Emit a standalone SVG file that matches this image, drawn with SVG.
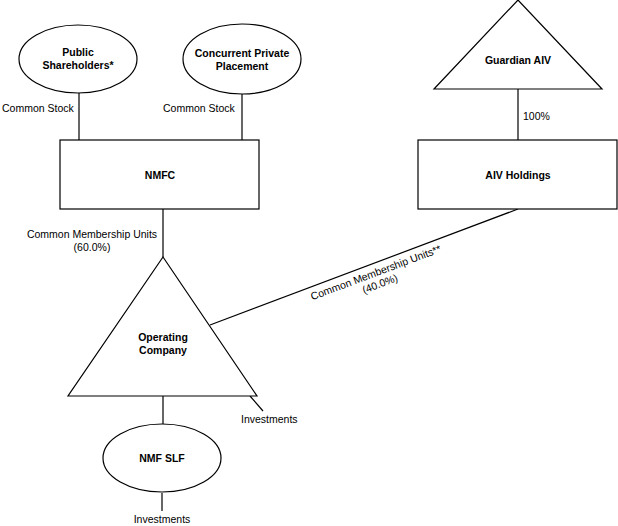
<svg xmlns="http://www.w3.org/2000/svg" width="618" height="526" viewBox="0 0 618 526">
<style>
.s{fill:#fff;stroke:#000;stroke-width:1.2}
.c line{stroke:#000;stroke-width:1.2}
text{font-family:"Liberation Sans",Arial,sans-serif;font-size:10.5px;fill:#000}
.b{font-weight:bold;text-anchor:middle}
.m{text-anchor:middle}
</style>
<rect width="618" height="526" fill="#fff"/>
<g class="c" id="connectors">
<line x1="79" y1="93" x2="79" y2="140"/>
<line x1="242" y1="94" x2="242" y2="140"/>
<line x1="163" y1="209" x2="163" y2="257"/>
<line x1="518" y1="89" x2="518" y2="140"/>
<line x1="518" y1="209" x2="210" y2="325"/>
<line x1="163" y1="396" x2="163" y2="424"/>
<line x1="162" y1="493" x2="162" y2="511"/>
<line x1="250" y1="396" x2="263" y2="411"/>
</g>
<g id="labels">
<text x="2" y="112">Common Stock</text>
<text x="163" y="112">Common Stock</text>
<text x="92" y="238" class="m">Common Membership Units</text>
<text x="92" y="251" class="m">(60.0%)</text>
<text x="523" y="120">100%</text>
<g transform="translate(377,276) rotate(-20.6)">
<text x="0" y="0" class="m">Common Membership Units**</text>
<text x="0" y="12" class="m">(40.0%)</text>
</g>
<text x="241" y="423">Investments</text>
<text x="162" y="523" class="m">Investments</text>
</g>
<g id="public">
<ellipse class="s" cx="78" cy="59" rx="59" ry="34"/>
<text x="78" y="56" class="b">Public</text>
<text x="78" y="69" class="b">Shareholders*</text>
</g>
<g id="concurrent">
<ellipse class="s" cx="242" cy="59" rx="59" ry="35"/>
<text x="242" y="57" class="b">Concurrent Private</text>
<text x="242" y="70" class="b">Placement</text>
</g>
<g id="nmfc">
<rect class="s" x="60" y="140" width="199" height="69"/>
<text x="160" y="179" class="b">NMFC</text>
</g>
<g id="guardian">
<polygon class="s" points="518,0 602,89 434,89"/>
<text x="518" y="64" class="b">Guardian AIV</text>
</g>
<g id="aivholdings">
<rect class="s" x="418" y="140" width="199" height="69"/>
<text x="518" y="179" class="b">AIV Holdings</text>
</g>
<g id="opco">
<polygon class="s" points="163,257 257,396 68,396"/>
<text x="163" y="341" class="b">Operating</text>
<text x="163" y="354" class="b">Company</text>
</g>
<g id="nmfslf">
<ellipse class="s" cx="162" cy="458" rx="59" ry="34"/>
<text x="162" y="462" class="b">NMF SLF</text>
</g>
</svg>
